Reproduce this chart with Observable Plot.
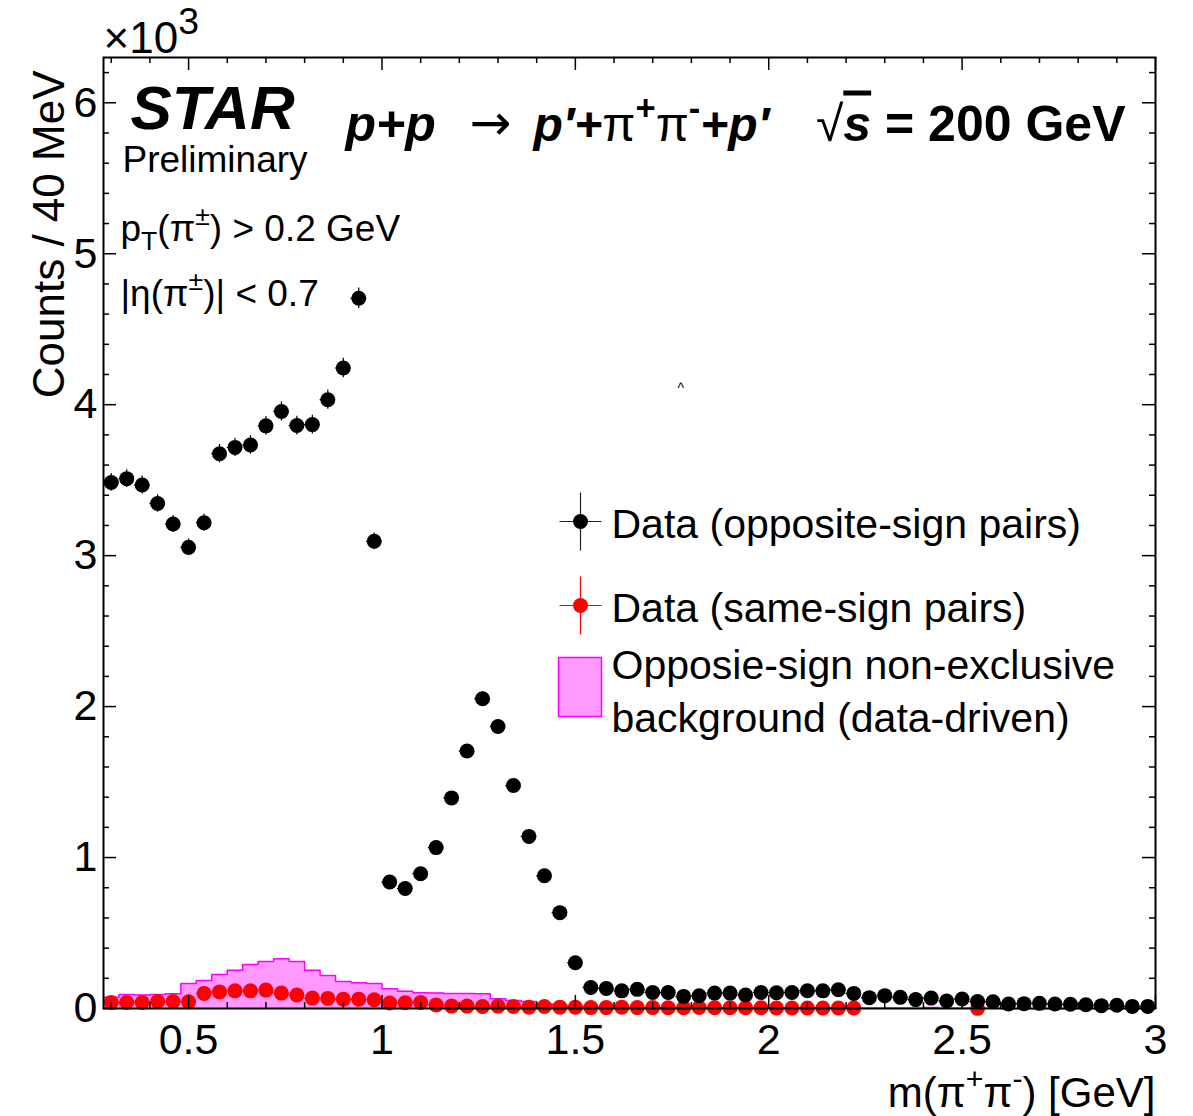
<!DOCTYPE html>
<html>
<head>
<meta charset="utf-8">
<script src="https://cdn.jsdelivr.net/npm/d3@7"></script>
<script src="https://cdn.jsdelivr.net/npm/@observablehq/plot@0.6"></script>
<style>
  body { margin: 0; background: #fff; }
</style>
</head>
<body>
<div id="chart"></div>
<script>
// Invariant mass m(pi+ pi-) in 40 MeV bins, 0.28 - 3.00 GeV
const binWidth = 0.04;
const binLow = d3.range(68).map(i => +(0.28 + i * binWidth).toFixed(2));
const binCenter = binLow.map(x => +(x + binWidth / 2).toFixed(2));

// Opposite-sign pairs, counts per bin
const oppositeSign = [
  3485, 3510, 3468, 3345, 3210, 3055, 3218, 3675, 3717, 3733, 3860, 3955, 3862, 3868, 4033, 4243, 4705, 3095,
  838, 795, 893, 1066, 1395, 1706, 2052, 1868, 1477, 1140, 879, 635, 303, 139, 133, 117, 127, 106, 106, 80, 84, 102, 102, 89, 106,
  104, 106, 118, 117, 124, 100, 72, 85, 74, 59, 69, 50, 63, 46, 45, 30, 32, 34, 30, 28, 25, 19, 22, 14, 14
];

// Same-sign pairs, counts per bin (null = empty bin)
const sameSign = [
  40, 40, 40, 46, 46, 44, 100, 110, 117, 117, 122, 102, 89, 69, 67, 62, 62, 58,
  36, 38, 40, 24, 16, 16, 13, 16, 13, 9, 13, 9, 9, 6, 6, 9, 6, 6, 5, 5, 7, 5, 5, 5, 5,
  3, 3, 3, 3, 3, 3, null, null, null, null, null, null, null, 1,
  null, null, null, null, null, null, null, null, null, null, null
];

// Opposite-sign non-exclusive background (data-driven), counts per bin
const background = [
  75, 93, 90, 93, 97, 166, 186, 226, 254, 292, 312, 329, 312, 254, 219, 179, 170, 166,
  131, 115, 105, 102, 100, 100, 98, 64, 53, 46, 31, 22, 15, 10, 8, 6, 5, 5, 4, 4, 3, 3, 3, 3, 2,
  2, 2, 2, 2, 2, 2, 1, 1, 2, 2, 6, 1, 1, 1, 1, 0, 0, 0, 0, 0, 0, 0, 0, 0, 0
];

const majorX = [0.5, 1, 1.5, 2, 2.5, 3];
const minorX = d3.range(3, 31).map(i => i / 10).filter(v => !majorX.includes(v));
const majorY = [0, 1000, 2000, 3000, 4000, 5000, 6000];
const minorY = d3.range(200, 6400, 200).filter(v => v % 1000 !== 0);

const osData = binCenter.map((x, i) => ({x, y: oppositeSign[i]}));
const ssData = binCenter.map((x, i) => ({x, y: sameSign[i]})).filter(d => d.y != null);
const bgSteps = binLow.map((x, i) => ({x, y: background[i]}))
  .concat([{x: 3.0, y: background[background.length - 1]}]);

const W = 1193, H = 1116;
const mTop = 57, mRight = 38, mBottom = 108, mLeft = 103;
const innerW = W - mLeft - mRight, innerH = H - mTop - mBottom;
const majorLen = 13, minorLen = 6;

// Legend glyphs
const crossSymbol = {
  draw(ctx) { ctx.moveTo(-21, 0); ctx.lineTo(21, 0); ctx.moveTo(0, -29); ctx.lineTo(0, 29); }
};
const boxSymbol = {
  draw(ctx) { ctx.rect(-21.5, -29.5, 43, 59); }
};

const fontFamily = "'Liberation Sans', Arial, Helvetica, sans-serif";
const label = (text, opts) => Plot.text([text], {
  text: d => d, frameAnchor: "top-left", textAnchor: "start", lineAnchor: "bottom", fill: "black", ...opts
});

const chart = Plot.plot({
  width: W, height: H,
  marginTop: mTop, marginRight: mRight, marginBottom: mBottom, marginLeft: mLeft,
  style: {fontFamily, background: "white"},
  x: {domain: [0.28, 3.0]},
  y: {domain: [0, 6300]},
  marks: [
    // background histogram
    Plot.areaY(bgSteps, {x: "x", y: "y", curve: "step-after", fill: "#ff99ff"}),
    Plot.lineY(bgSteps, {x: "x", y: "y", curve: "step-after", stroke: "#ff00ff", strokeWidth: 1.5}),

    // same-sign pairs
    Plot.ruleX(ssData, {x: "x", y1: d => d.y - Math.sqrt(d.y), y2: d => d.y + Math.sqrt(d.y), stroke: "#ff0000", strokeWidth: 1.2}),
    Plot.ruleY(ssData, {y: "y", x1: d => d.x - binWidth / 2, x2: d => d.x + binWidth / 2, stroke: "#ff0000", strokeWidth: 1.2}),
    Plot.dot(ssData, {x: "x", y: "y", r: 7.5, fill: "#ff0000"}),

    // opposite-sign pairs
    Plot.ruleX(osData, {x: "x", y1: d => d.y - Math.sqrt(d.y), y2: d => d.y + Math.sqrt(d.y), stroke: "black", strokeWidth: 1.2}),
    Plot.ruleY(osData, {y: "y", x1: d => d.x - binWidth / 2, x2: d => d.x + binWidth / 2, stroke: "black", strokeWidth: 1.2}),
    Plot.dot(osData, {x: "x", y: "y", r: 7.5, fill: "black"}),

    // frame and inward ticks on all four sides
    Plot.frame({stroke: "black", strokeWidth: 2}),
    Plot.tickX(majorX, {x: d => d, insetTop: innerH - majorLen, stroke: "black", strokeWidth: 1.5}),
    Plot.tickX(minorX, {x: d => d, insetTop: innerH - minorLen, stroke: "black", strokeWidth: 1.5}),
    Plot.tickX(majorX, {x: d => d, insetBottom: innerH - majorLen, stroke: "black", strokeWidth: 1.5}),
    Plot.tickX(minorX, {x: d => d, insetBottom: innerH - minorLen, stroke: "black", strokeWidth: 1.5}),
    Plot.tickY(majorY, {y: d => d, insetRight: innerW - majorLen, stroke: "black", strokeWidth: 1.5}),
    Plot.tickY(minorY, {y: d => d, insetRight: innerW - minorLen, stroke: "black", strokeWidth: 1.5}),
    Plot.tickY(majorY, {y: d => d, insetLeft: innerW - majorLen, stroke: "black", strokeWidth: 1.5}),
    Plot.tickY(minorY, {y: d => d, insetLeft: innerW - minorLen, stroke: "black", strokeWidth: 1.5}),

    Plot.axisX({ticks: majorX, tickSize: 0, tickPadding: 15, fontSize: 43, label: null, tickFormat: d => d3.format("~g")(d)}),
    Plot.axisY({ticks: majorY, tickSize: 0, tickPadding: 6, fontSize: 43, label: null, tickFormat: d => d3.format("~g")(d / 1000)}),

    // axis titles
    label("m(π^{+}π^{-}) [GeV]", {frameAnchor: "bottom-right", textAnchor: "end", dx: 0, dy: 98, fontSize: 42}),
    label("Counts / 40 MeV", {rotate: -90, textAnchor: "end", dx: -40, dy: 13, fontSize: 44}),
    label("×10^{3}", {dx: 0, dy: -5, fontSize: 44}),

    // annotations
    label("STAR", {dx: 27, dy: 71, fontSize: 62, fontWeight: "bold", fontStyle: "italic"}),
    label("Preliminary", {dx: 19, dy: 114, fontSize: 37}),
    label("p_{T}(π^{±}) > 0.2 GeV", {dx: 17, dy: 183, fontSize: 37}),
    label("|η(π^{±})| < 0.7", {dx: 17, dy: 248, fontSize: 37}),
    label("~{p+p}", {dx: 242, dy: 83, fontSize: 50, fontWeight: "bold"}),
    label("→", {dx: 366, dy: 82, fontSize: 50, fontFamily: "'DejaVu Sans', sans-serif"}),
    label("~{p′+}!{π}^{+}!{π}^{-}~{+p′}", {dx: 430, dy: 83, fontSize: 48, fontWeight: "bold"}),
    label("!{√}#{~{s}} = 200 GeV", {frameAnchor: "top-right", textAnchor: "end", dx: -30, dy: 83, fontSize: 50, fontWeight: "bold"}),
    label("^", {dx: 574, dy: 335, fontSize: 14}),

    // legend
    Plot.dot([0], {frameAnchor: "top-left", dx: 477, dy: 464, symbol: crossSymbol, r: 8, fill: "none", stroke: "#222", strokeWidth: 1.2}),
    Plot.dot([0], {frameAnchor: "top-left", dx: 477, dy: 464, r: 7.5, fill: "black"}),
    label("Data (opposite-sign pairs)", {dx: 508, dy: 480, fontSize: 41}),
    Plot.dot([0], {frameAnchor: "top-left", dx: 477, dy: 548, symbol: crossSymbol, r: 8, fill: "none", stroke: "#ff0000", strokeWidth: 1.2}),
    Plot.dot([0], {frameAnchor: "top-left", dx: 477, dy: 548, r: 7.5, fill: "#ff0000"}),
    label("Data (same-sign pairs)", {dx: 508, dy: 564, fontSize: 41}),
    Plot.dot([0], {frameAnchor: "top-left", dx: 476.5, dy: 629.5, symbol: boxSymbol, r: 8, fill: "#ff99ff", stroke: "#ff00ff", strokeWidth: 1.5}),
    label("Opposie-sign non-exclusive", {dx: 508, dy: 621, fontSize: 41}),
    label("background (data-driven)", {dx: 508, dy: 674, fontSize: 41})
  ]
});

document.getElementById("chart").appendChild(chart);

// Inline markup: ^{} superscript, _{} subscript, ~{} italic, !{} regular weight, #{} overline
function parseRich(str) {
  const out = [];
  (function walk(s, style) {
    let buf = "";
    const flush = () => { if (buf) out.push({text: buf, ...style}); buf = ""; };
    for (let i = 0; i < s.length; ) {
      const c = s[i];
      if ("^_~!#".includes(c) && s[i + 1] === "{") {
        let depth = 0, j = i + 1;
        for (; j < s.length; j++) {
          if (s[j] === "{") depth++;
          else if (s[j] === "}" && --depth === 0) break;
        }
        flush();
        const ns = {...style};
        if (c === "^") ns.shift = "sup";
        else if (c === "_") ns.shift = "sub";
        else if (c === "~") ns.italic = true;
        else if (c === "!") ns.plain = true;
        else ns.overline = true;
        walk(s.slice(i + 2, j), ns);
        i = j + 1;
      } else { buf += c; i++; }
    }
    flush();
  })(str, {});
  return out;
}

chart.querySelectorAll("text").forEach(t => {
  const raw = t.textContent;
  if (!/[\^_~!#]\{/.test(raw)) return;
  const base = parseFloat(getComputedStyle(t).fontSize);
  // the axis multiplier carries a larger exponent than inline scripts
  const scale = raw.startsWith("×") ? 0.85 : 0.72;
  const segs = parseRich(raw);
  while (t.firstChild) t.removeChild(t.firstChild);
  let offset = 0;
  for (const s of segs) {
    const ts = document.createElementNS("http://www.w3.org/2000/svg", "tspan");
    const target = s.shift === "sup" ? -0.42 * base : s.shift === "sub" ? 0.25 * base : 0;
    if (target !== offset) ts.setAttribute("dy", target - offset);
    offset = target;
    if (s.shift) ts.setAttribute("font-size", scale * base);
    if (s.italic) ts.setAttribute("font-style", "italic");
    if (s.plain) ts.setAttribute("font-weight", "normal");
    if (s.overline) ts.setAttribute("text-decoration", "overline");
    ts.textContent = s.text;
    t.appendChild(ts);
  }
});
</script>
</body>
</html>
